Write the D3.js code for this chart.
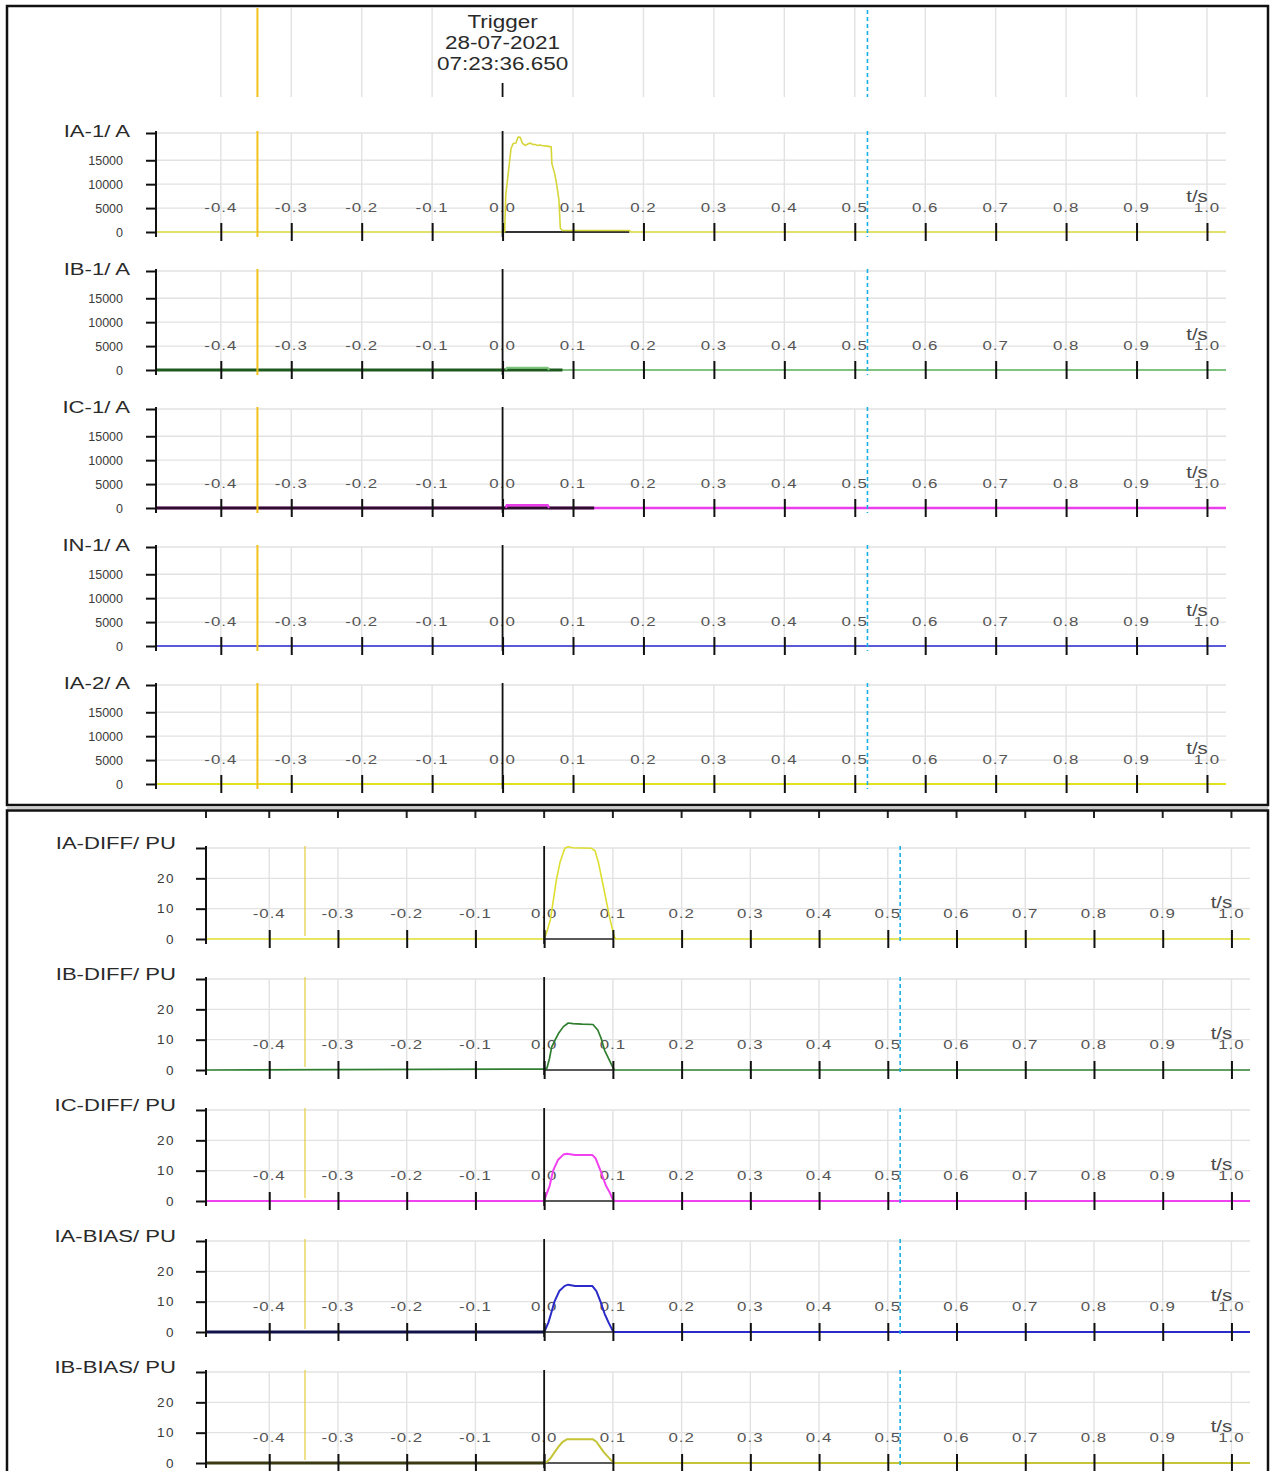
<!DOCTYPE html>
<html>
<head>
<meta charset="utf-8">
<script src="https://cdn.jsdelivr.net/npm/d3@7"></script>
<style>
  body { margin: 0; background: #fff; }
  svg { display: block; }
  text { font-family: "Liberation Sans", Arial, sans-serif; }
</style>
</head>
<body>
<svg id="chart" width="1270" height="1471"></svg>
<script>
// ---- Time axis (seconds relative to trigger) ----
const timeRange = [-0.492, 1.027];
const timeTicks = [-0.4, -0.3, -0.2, -0.1, 0.0, 0.1, 0.2, 0.3, 0.4, 0.5, 0.6, 0.7, 0.8, 0.9, 1.0];
const cursorTime = -0.348;
const markerTime = 0.518;
const triggerText = ["Trigger", "28-07-2021", "07:23:36.650"];

// ---- Current channels (A) ----
const currentChannels = ["IA-1/ A", "IB-1/ A", "IC-1/ A", "IN-1/ A", "IA-2/ A"];
const currentTicks = [0, 5000, 10000, 15000];
const currentMax = 20700;

const ia1Time = [-0.492, 0.003, 0.0045, 0.0085, 0.012, 0.015, 0.019, 0.022, 0.025, 0.028, 0.032, 0.036, 0.039, 0.043, 0.046, 0.05, 0.053, 0.056, 0.06, 0.065, 0.069, 0.070, 0.074, 0.077, 0.080, 0.082, 0.085, 0.18, 0.182, 1.027];
const ia1Value = [0, 0, 7700, 12900, 17400, 18500, 18600, 19850, 19800, 18600, 18100, 18400, 18600, 18300, 18300, 18100, 18200, 18100, 18000, 17900, 17800, 14300, 12200, 9800, 6700, 770, 300, 300, 0, 0];
const ia1BaseSpan = [0, 0.18];

const ib1Time = [-0.492, 0.005, 0.006, 0.064, 0.066, 1.027];
const ib1Value = [0, 0, 450, 450, 0, 0];
const ib1BaseSpan = [-0.492, 0.085];

const ic1Time = [-0.492, 0.005, 0.006, 0.064, 0.066, 1.027];
const ic1Value = [0, 0, 550, 550, 0, 0];
const ic1BaseSpan = [-0.492, 0.13];

const in1Time = [-0.492, 1.027];
const in1Value = [0, 0];

const ia2Time = [-0.492, 1.027];
const ia2Value = [0, 0];

// ---- Differential / bias channels (PU) ----
const puChannels = ["IA-DIFF/ PU", "IB-DIFF/ PU", "IC-DIFF/ PU", "IA-BIAS/ PU", "IB-BIAS/ PU"];
const puTicks = [0, 10, 20];
const puMax = 30;

const iaDiffTime = [-0.492, 0, 0.004, 0.009, 0.0135, 0.018, 0.023, 0.030, 0.035, 0.042, 0.055, 0.069, 0.074, 0.079, 0.084, 0.090, 0.096, 0.102, 0.104, 1.027];
const iaDiffValue = [0, 0, 2.4, 6.3, 13, 19.7, 25.2, 29.9, 30.4, 30.1, 30.0, 29.9, 29.1, 25.2, 19.7, 13, 6.3, 0.8, 0, 0];

const ibDiffTime = [-0.492, 0, 0.004, 0.0077, 0.011, 0.016, 0.021, 0.028, 0.035, 0.042, 0.055, 0.071, 0.078, 0.083, 0.088, 0.094, 0.1, 0.102, 1.027];
const ibDiffValue = [0, 0.3, 0.6, 3.7, 7.6, 9.9, 12.1, 14.3, 15.5, 15.3, 15.1, 15.0, 13.2, 10.4, 6.5, 3.7, 0.9, 0, 0];

const icDiffTime = [-0.492, 0, 0.003, 0.008, 0.013, 0.02, 0.028, 0.033, 0.045, 0.07, 0.075, 0.082, 0.09, 0.095, 0.1, 0.102, 1.027];
const icDiffValue = [0, 0, 2, 5, 10, 13.5, 15.3, 15.6, 15.2, 15.2, 14, 10, 5, 3, 0.5, 0, 0];

const iaBiasTime = [-0.492, 0, 0.002, 0.006, 0.01, 0.015, 0.022, 0.03, 0.035, 0.045, 0.07, 0.076, 0.082, 0.088, 0.094, 0.1, 0.102, 1.027];
const iaBiasValue = [0, 0, 1, 3, 6, 10, 13.5, 15.2, 15.6, 15.2, 15.2, 13.5, 10, 6, 3, 0.3, 0, 0];

const ibBiasTime = [-0.492, 0, 0.004, 0.009, 0.015, 0.021, 0.027, 0.033, 0.071, 0.076, 0.081, 0.087, 0.093, 0.1, 0.102, 1.027];
const ibBiasValue = [0, 0, 0.4, 1.5, 3.5, 5.4, 7, 7.8, 7.8, 7, 5.4, 3.5, 2, 0.3, 0, 0];

const diffBaseSpan = [0, 0.1];
const preTriggerSpan = [-0.492, 0];

// ---- Drawing ----
const svg = d3.select("#chart");
svg.append("rect").attr("width", 1270).attr("height", 1471).attr("fill", "#fff");

const zip = (ts, vs) => ts.map((t, i) => ({ t, v: vs[i] }));
const span = s => [{ t: s[0], v: 0 }, { t: s[1], v: 0 }];

const GRID = "#e2e2e2";
const CURSOR_TOP = "#f2c21a";
const CURSOR_BOTTOM = "#e6cc40";
const MARKER = "#1aaee6";

const currentStyle = [
  [{ pts: span(ia1BaseSpan), color: "#333", w: 2 },
   { pts: zip(ia1Time, ia1Value), color: "#d6d63a", w: 1.6 }],
  [{ pts: zip(ib1Time, ib1Value), color: "#55b055", w: 1.6 },
   { pts: span(ib1BaseSpan), color: "#1e5a1e", w: 2.8 },
   { pts: zip(ib1Time, ib1Value).filter(d => d.t > 0 && d.t < 0.07), color: "#7cc47c", w: 2 }],
  [{ pts: zip(ic1Time, ic1Value), color: "#ea3eea", w: 2.6 },
   { pts: span(ic1BaseSpan), color: "#2e0d2e", w: 2.8 },
   { pts: zip(ic1Time, ic1Value).filter(d => d.t > 0 && d.t < 0.07), color: "#ea3eea", w: 2 }],
  [{ pts: zip(in1Time, in1Value), color: "#5a5ad8", w: 1.8 }],
  [{ pts: zip(ia2Time, ia2Value), color: "#e2e21a", w: 2 }]
];

const puStyle = [
  [{ pts: span(diffBaseSpan), color: "#222", w: 1.6 },
   { pts: zip(iaDiffTime, iaDiffValue), color: "#dede30", w: 1.6 }],
  [{ pts: span(diffBaseSpan), color: "#222", w: 1.6 },
   { pts: zip(ibDiffTime, ibDiffValue), color: "#2f7d2f", w: 1.7 }],
  [{ pts: span(diffBaseSpan), color: "#222", w: 1.6 },
   { pts: zip(icDiffTime, icDiffValue), color: "#f042f0", w: 2 }],
  [{ pts: span(diffBaseSpan), color: "#222", w: 1.6 },
   { pts: zip(iaBiasTime, iaBiasValue), color: "#2a2ac8", w: 2 },
   { pts: span(preTriggerSpan), color: "#12124a", w: 3 }],
  [{ pts: span(diffBaseSpan), color: "#222", w: 1.6 },
   { pts: zip(ibBiasTime, ibBiasValue), color: "#c4c436", w: 2 },
   { pts: span(preTriggerSpan), color: "#3a3a12", w: 3 }]
];

// text drawn with a horizontal stretch, anchored at (x, y)
function wideText(g, x, y, str, size, stretch, anchor, fill) {
  return g.append("text")
    .attr("transform", `translate(${x},${y}) scale(${stretch},1)`)
    .attr("text-anchor", anchor).attr("font-size", size)
    .attr("fill", fill).text(str);
}

function drawPanel(p) {
  const x = d3.scaleLinear().domain(timeRange).range([p.left, p.right]);
  p.names.forEach((name, i) => {
    const zero = p.zero0 + i * p.step;
    const y = d3.scaleLinear().domain([0, p.max]).range([zero, zero - p.plotH]);
    const g = svg.append("g");
    const hTicks = p.ticks.filter(v => v > 0).concat([p.max]);

    // grid
    g.selectAll(".hg").data(hTicks).join("line")
      .attr("x1", p.left).attr("x2", p.right)
      .attr("y1", d => y(d)).attr("y2", d => y(d))
      .attr("stroke", GRID).attr("stroke-width", 1.4);
    g.selectAll(".vg").data(timeTicks).join("line")
      .attr("x1", d => x(d)).attr("x2", d => x(d))
      .attr("y1", y(p.max)).attr("y2", zero)
      .attr("stroke", GRID).attr("stroke-width", 1.4);

    // time labels sit above the zero line
    timeTicks.forEach(t =>
      wideText(g, x(t), zero - p.labelLift, t.toFixed(1), 13.5, 1.25, "middle", "#555")
        .attr("letter-spacing", 0.8));
    wideText(g, x(1.0) - 10, zero - p.labelLift - 10, "t/s", 17, 1.2, "middle", "#4a4a4a");

    // traces
    const line = d3.line().x(d => x(d.t)).y(d => y(d.v));
    p.styles[i].forEach(s => {
      g.append("path").attr("d", line(s.pts))
        .attr("fill", "none").attr("stroke", s.color)
        .attr("stroke-width", s.w).attr("stroke-linejoin", "round");
    });

    // cursor, trigger and marker lines
    g.append("line")
      .attr("x1", x(cursorTime)).attr("x2", x(cursorTime))
      .attr("y1", y(p.max) - 2).attr("y2", zero + p.cursorExt)
      .attr("stroke", p.cursorColor).attr("stroke-width", p.cursorW);
    g.append("line")
      .attr("x1", x(0)).attr("x2", x(0))
      .attr("y1", y(p.max) - 2).attr("y2", zero + 5)
      .attr("stroke", "#111").attr("stroke-width", 1.8);
    g.append("line")
      .attr("x1", x(markerTime)).attr("x2", x(markerTime))
      .attr("y1", y(p.max) - 2).attr("y2", zero + 5)
      .attr("stroke", MARKER).attr("stroke-width", 1.6)
      .attr("stroke-dasharray", "4,3");

    // time ticks crossing the zero line
    const xAxis = g.append("g").attr("transform", `translate(0,${zero})`)
      .call(d3.axisBottom(x).tickValues(timeTicks).tickSize(9).tickFormat(""));
    xAxis.select(".domain").remove();
    xAxis.selectAll(".tick line").attr("y1", -9).attr("stroke", "#111").attr("stroke-width", 2);

    // value axis
    const yAxis = g.append("g").attr("transform", `translate(${p.left},0)`)
      .call(d3.axisLeft(y).tickValues(p.ticks.concat([p.max])).tickSize(10).tickSizeOuter(0)
        .tickPadding(p.tickPad).tickFormat(d => d === p.max ? "" : d));
    yAxis.select(".domain").remove();
    yAxis.selectAll(".tick line").attr("stroke", "#111").attr("stroke-width", 2);
    yAxis.selectAll(".tick text")
      .attr("font-family", "\"Liberation Sans\", Arial, sans-serif")
      .attr("font-size", p.yFont).attr("letter-spacing", p.ySpacing)
      .attr("fill", "#3a3a3a");
    g.append("line")
      .attr("x1", p.left).attr("x2", p.left)
      .attr("y1", y(p.max) - 2).attr("y2", zero + 5)
      .attr("stroke", "#111").attr("stroke-width", 2);
    wideText(g, p.left - p.titleGap, y(p.max) - p.titleLift + 6, name, 17, 1.3, "end", "#2a2a2a");
  });
  return x;
}

// ---- Upper panel: phase currents ----
const xTop = drawPanel({
  names: currentChannels, styles: currentStyle,
  left: 156, right: 1226, zero0: 232, step: 138, plotH: 99,
  max: currentMax, ticks: currentTicks,
  labelLift: 20, yFont: 12.5, ySpacing: 0, tickPad: 23, titleGap: 26, titleLift: 2,
  cursorColor: CURSOR_TOP, cursorW: 2, cursorExt: 5
});

// header strip with trigger stamp
const header = svg.append("g");
header.selectAll("line.hgrid").data(timeTicks.filter(t => t !== 0)).join("line")
  .attr("x1", d => xTop(d)).attr("x2", d => xTop(d))
  .attr("y1", 8).attr("y2", 97)
  .attr("stroke", GRID).attr("stroke-width", 1.4);
header.append("line")
  .attr("x1", xTop(cursorTime)).attr("x2", xTop(cursorTime))
  .attr("y1", 8).attr("y2", 97)
  .attr("stroke", CURSOR_TOP).attr("stroke-width", 2);
header.append("line")
  .attr("x1", xTop(markerTime)).attr("x2", xTop(markerTime))
  .attr("y1", 10).attr("y2", 97)
  .attr("stroke", MARKER).attr("stroke-width", 1.6).attr("stroke-dasharray", "4,3");
header.append("line")
  .attr("x1", xTop(0)).attr("x2", xTop(0))
  .attr("y1", 83).attr("y2", 97)
  .attr("stroke", "#111").attr("stroke-width", 1.8);
triggerText.forEach((s, i) => wideText(header, xTop(0), 28 + i * 21, s, 18, 1.25, "middle", "#2a2a2a"));

// ---- Lower panel: differential and bias ----
const xBottom = drawPanel({
  names: puChannels, styles: puStyle,
  left: 206, right: 1250, zero0: 939, step: 131, plotH: 91,
  max: puMax, ticks: puTicks,
  labelLift: 21, yFont: 13.5, ySpacing: 1.5, tickPad: 21, titleGap: 30, titleLift: 5,
  cursorColor: CURSOR_BOTTOM, cursorW: 1.2, cursorExt: -3
});

// tick stubs of the trace above, cut by the panel edge
svg.append("g").selectAll("line").data([timeRange[0]].concat(timeTicks)).join("line")
  .attr("x1", d => xBottom(d)).attr("x2", d => xBottom(d))
  .attr("y1", 811).attr("y2", 818)
  .attr("stroke", "#222").attr("stroke-width", 2);

// panel frames
svg.append("rect").attr("x", 7).attr("y", 6).attr("width", 1261).attr("height", 799)
  .attr("fill", "none").attr("stroke", "#111").attr("stroke-width", 2.5);
svg.append("line").attr("x1", 7).attr("x2", 1268).attr("y1", 808).attr("y2", 808)
  .attr("stroke", "#999").attr("stroke-width", 1);
svg.append("rect").attr("x", 7).attr("y", 810.5).attr("width", 1261).attr("height", 700)
  .attr("fill", "none").attr("stroke", "#111").attr("stroke-width", 2.5);
</script>
</body>
</html>
